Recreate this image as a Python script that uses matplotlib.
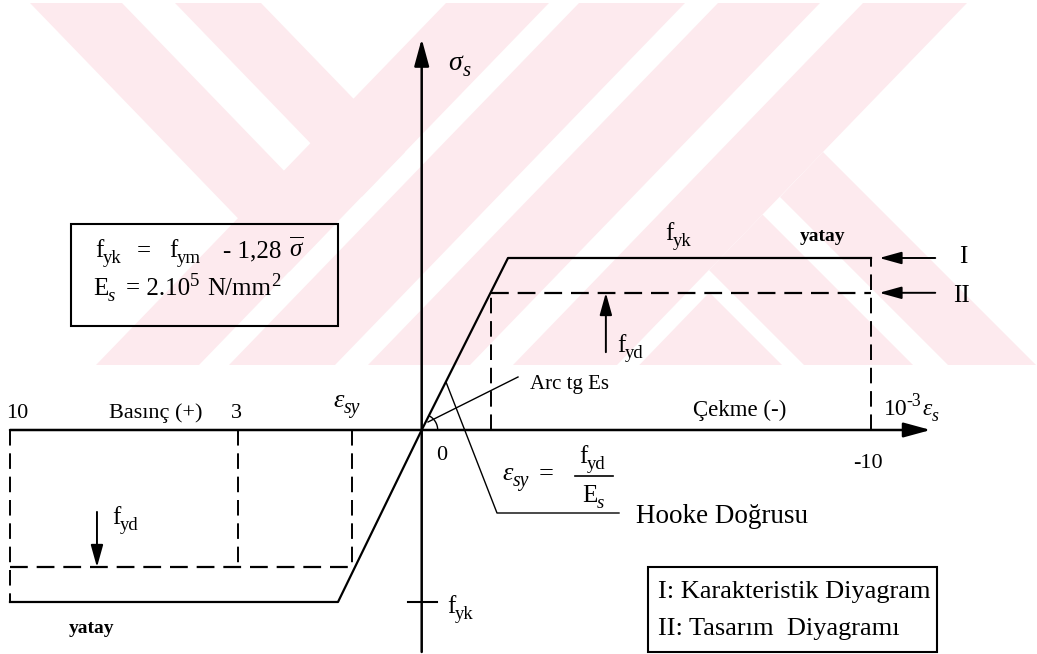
import numpy as np
import matplotlib
matplotlib.use("Agg")
import matplotlib.pyplot as plt
import matplotlib.transforms as mtransforms
from matplotlib.patches import Polygon, Rectangle

plt.rcParams['font.family'] = ['Liberation Serif', 'DejaVu Serif']
plt.rcParams['mathtext.fontset'] = 'custom'
plt.rcParams['mathtext.rm'] = 'Liberation Serif'
plt.rcParams['mathtext.it'] = 'Liberation Serif:italic'
plt.rcParams['mathtext.bf'] = 'Liberation Serif:bold'

# steel: strain in 1e-3 (compression +), stress in N/mm2
Es = 2.0e5
fyk = 420.0
fyd = 335.0
eps_su = 10.0
eps_c = 3.0
eps_yk = fyk / Es * 1e3
eps_yd = fyd / Es * 1e3

# I: characteristic diagram
eps_I = [eps_su, eps_yk, 0.0, -eps_yk, -eps_su]
sig_I = [-fyk, -fyk, 0.0, fyk, fyk]
# II: design diagram, horizontal branches
eps_II = [[eps_su, eps_yd], [-eps_yd, -eps_su]]
sig_II = [[-fyd, -fyd], [fyd, fyd]]
# dashed drop lines from the strain axis
eps_drop = [eps_su, eps_c, eps_yd, -eps_yd, -eps_su]
sig_drop = [-fyk, -fyd, -fyd, fyd, fyk]

W, H = 1037, 654
fig = plt.figure(figsize=(W / 100, H / 100), dpi=100)
ax = fig.add_axes([0, 0, 1, 1])
ax.axis('off')

# strain axis is schematic, not to scale: piecewise stretch, tension to the right
knot_u = np.array([-20, -eps_su, -eps_c, -eps_yk, -eps_yd, 0, eps_yd, eps_yk, eps_su, 20])
knot_p = np.array([-316, 10, 238, 338, 352, 421.7, 491, 508, 871, 1330])
fwd = lambda u: np.interp(u, knot_u, knot_p)
inv = lambda p: np.interp(p, knot_p, knot_u)
ax.set_xscale('function', functions=(fwd, inv))
ax.set_xlim(inv(0), inv(W))
ax.set_ylim(-547, 1050)

# pixel coordinates (origin top-left) for the decoration
pix = mtransforms.Affine2D().scale(1 / W, -1 / H).translate(0, 1) + fig.transFigure

# background logo stripes
pink = '#fdeaee'
logo = [
    [(446, 3), (549, 3), (199, 365), (96, 365)],
    [(579, 3), (685, 3), (335, 365), (229, 365)],
    [(718, 3), (820, 3), (470, 365), (368, 365)],
    [(863, 3), (967, 3), (617, 365), (513, 365)],
    [(30, 3), (122, 3), (335.5, 224), (289.5, 271.6)],
    [(175, 3), (261, 3), (405, 152), (362, 196.6)],
    [(823, 152), (1036, 365), (948, 365), (780, 197)],
    [(762.6, 214.6), (913, 365), (804, 365), (709, 270)],
    [(709.4, 292.4), (782, 365), (639.3, 365)],
]
for pts in logo:
    ax.add_patch(Polygon(pts, closed=True, transform=pix, fc=pink, ec='none', zorder=0))

# axes with arrows
axis_kw = dict(arrowstyle='-|>,head_length=1.1,head_width=0.3', color='k', lw=1.8,
               shrinkA=0, shrinkB=0, mutation_scale=15)
ax.annotate('', xy=(11.3, 0), xytext=(-eps_su, 0), arrowprops=axis_kw)
ax.annotate('', xy=(0, 955), xytext=(0, -542), arrowprops=axis_kw)

# diagrams
u = lambda e: -np.asarray(e)
dash = (0, (8, 4))
ax.plot(u(eps_I), sig_I, color='k', lw=1.6, zorder=3)
for e, s in zip(eps_II, sig_II):
    ax.plot(u(e), s, color='k', lw=1.6, ls=dash, zorder=3)
for e, s in zip(eps_drop, sig_drop):
    ax.plot([-e, -e], [0, s], color='k', lw=1.4, ls=dash, zorder=3)

# pointers
ptr_kw = dict(arrowstyle='-|>,head_length=0.9,head_width=0.25', color='k', lw=1.4,
              shrinkA=0, shrinkB=0, mutation_scale=15)
for s in (fyk, fyd):
    ax.annotate('', xy=(10.18, s), xytext=(11.4, s), arrowprops=ptr_kw)
ax.annotate('', xy=(4.23, fyd), xytext=(4.23, 190), arrowprops=ptr_kw)
ax.annotate('', xy=(-7.33, -fyd), xytext=(-7.33, -200), arrowprops=ptr_kw)
ax.plot([-0.33, 0.37], [-fyk, -fyk], color='k', lw=1.5)

# leaders, angle arc, fraction bar
ax.plot([446, 497, 619], [382, 513, 513], color='k', lw=1.0, transform=pix)
ax.plot([428, 518], [422, 377], color='k', lw=1.0, transform=pix)
t = np.radians(np.linspace(0, 63, 20))
ax.plot(421.7 + 16 * np.cos(t), 430 - 16 * np.sin(t), color='k', lw=1.0, transform=pix)
ax.plot([575, 613], [476, 476], color='k', lw=1.2, transform=pix)

# boxes
ax.add_patch(Rectangle((71, 224), 267, 102, transform=pix, fill=False, ec='k', lw=1.5))
ax.add_patch(Rectangle((648, 567), 289, 85, transform=pix, fill=False, ec='k', lw=1.5))


def put(x, y, s, size=18, ha='left', **kw):
    ax.text(x, y, s, transform=pix, fontsize=size, ha=ha, va='baseline', **kw)


def label(x, y, parts, size=18):
    # parts: (text, '' / '_' / '^', gap in px, style); each piece follows the previous one
    prev = None
    for s, kind, gap, style in parts:
        fs = size * (0.75 if kind else 1.0)
        yy = y + {'': 0, '_': 6, '^': -9}[kind]
        kw = dict(fontsize=fs, style=style, va='baseline', ha='left')
        if prev is None:
            prev = ax.text(x, yy, s, transform=pix, **kw)
        else:
            prev = ax.annotate(s, xy=(1, yy), xycoords=(prev, pix), xytext=(gap, 0),
                               textcoords='offset pixels', **kw)


def tick_label(s, x, dx, dy, size=16):
    ax.annotate(s, xy=(x, 0), xytext=(dx, dy), textcoords='offset pixels',
                ha='center', va='baseline', fontsize=size)


tick_label('10', -eps_su, 7, 12)
tick_label('3', -eps_c, -2, 12)
tick_label('0', 0, 20, -30)
tick_label('-10', eps_su, -3, -38)

n, it = 'normal', 'italic'
f_sub = lambda s: [('f', '', 0, n), (s, '_', -1, n)]

label(448, 70, [('σ', '', 0, it), ('s', '_', 1, it)], 20)
put(156, 418, 'Basınç (+)', 16, ha='center')
label(333, 407, [('ε', '', 0, it), ('sy', '_', 0, it)], 19)
put(530, 389, 'Arc tg Es', 15)
put(740, 416, 'Çekme (-)', 16.5, ha='center')
label(884, 415, [('10', '', 0, n), ('-3', '^', -1, n), ('ε', '', 1, it), ('s', '_', 0, it)], 17)
label(502, 480, [('ε', '', 0, it), ('sy', '_', 0, it), ('=', '', 10, n)], 19)
label(579, 463, f_sub('yd'))
label(582, 502, [('E', '', 0, n), ('s', '_', 0, it)])
put(636, 523, 'Hooke Doğrusu', 19.5)
label(665, 240, f_sub('yk'))
put(823, 241, 'yatay', 14, ha='center', weight='bold')
put(963, 263, 'I', 18, ha='center')
put(961, 302, 'II', 18, ha='center')
label(617, 352, f_sub('yd'))
label(112, 524, f_sub('yd'))
label(447, 613, f_sub('yk'))
put(92, 633, 'yatay', 14, ha='center', weight='bold')

# box with the formulas
label(95, 257, f_sub('yk') + [('=', '', 16, n), ('f', '', 18, n), ('ym', '_', -1, n),
                             ('- 1,28', '', 22, n), (r'$\overline{\sigma}$', '', 8, n)])
label(93, 295, [('E', '', 0, n), ('s', '_', 0, it), ('= 2.10', '', 10, n), ('5', '^', 0, n),
                ('N/mm', '', 8, n), ('2', '^', 0, n)])

put(658, 598, 'I: Karakteristik Diyagram', 19)
put(658, 635, 'II: Tasarım  Diyagramı', 19)

fig.savefig('out.png', dpi=100, facecolor='white')
